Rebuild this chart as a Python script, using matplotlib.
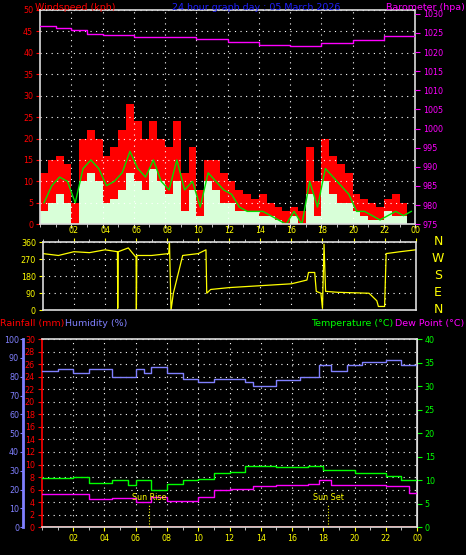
import matplotlib
matplotlib.use("Agg")
import matplotlib.pyplot as plt
import numpy as np

# ---- data ----
half_hours = np.arange(0, 24.01, 0.5)[:48]
gust = [12,15,16,14,5,20,22,20,16,18,22,28,24,20,24,20,18,24,12,18,8,15,15,12,
        10,8,7,6,7,5,4,3,4,3,18,10,20,16,14,12,7,6,5,4,6,7,5,4]
speed = [3,5,7,5,0,10,12,10,5,6,8,12,10,8,13,10,7,10,3,8,2,10,8,5,
         5,3,3,3,2,2,1,0,2,0,7,2,10,7,5,5,3,2,1,1,3,2,2,3]
avg = [5,9,11,10,5,13,15,13,9,10,12,17,13,11,15,10,8,15,8,10,4,12,10,8,
       7,4,3,3,3,2,1,0,3,0,10,4,13,11,9,7,3,3,2,1,2,3,2,3]
baro_hours = [0, 1, 2, 3, 4, 6, 8, 10, 12, 14, 16, 18, 20, 22, 24]
baro = [1026.8, 1026.3, 1025.8, 1024.8, 1024.4, 1024.0, 1023.9, 1023.3, 1022.6,
        1021.8, 1021.6, 1022.3, 1023.2, 1024.2, 1024.2]
dir_hours = [0, 1, 2, 3, 4, 4.8, 4.82, 4.85, 5.5, 6.0, 6.02, 6.05, 7, 8.1, 8.15, 8.25, 8.4,
             9, 10, 10.5, 10.55, 10.8, 12, 14, 16, 17, 17.1, 17.5, 17.6, 17.9, 18.0, 18.1, 18.2,
             19, 21, 21.5, 21.6, 22, 22.1, 23, 24]
dir_vals = [300, 290, 310, 305, 320, 310, 10, 310, 330, 280, 0, 290, 290, 300, 360, 0, 90,
            290, 300, 320, 90, 110, 120, 130, 140, 160, 200, 200, 100, 90, 10, 350, 100,
            95, 90, 50, 20, 20, 300, 310, 320]
th_hours = [0, 1, 2, 3, 3.5, 4.5, 5.5, 6, 6.5, 7, 8, 9, 10, 11, 12, 13, 13.5, 15, 16.5, 17.7, 18.5,
            19.5, 20.5, 22, 23, 24]
hum = [83, 84, 82, 84, 84, 80, 80, 84, 82, 85, 82, 79, 77, 79, 79, 77, 75, 78, 80, 86, 83,
       86, 88, 89, 86, 85]
temp_hours = [0, 2, 3, 4.5, 5.5, 6, 7, 8, 9, 10, 11, 12, 13, 15, 17, 18, 20, 22, 23, 24]
temp = [10.4, 10.6, 9.5, 10, 9, 10, 7.9, 9.2, 10, 10.3, 11.6, 11.8, 13, 12.8, 13, 12.2, 11.5, 11, 10, 10.2]
dew_hours = [0, 2, 3, 4.5, 6, 7, 8, 10, 11, 12, 13.5, 15, 17, 17.7, 18.5, 20, 22, 23.5, 24]
dew = [7, 7.1, 6, 6.3, 5.3, 6.5, 5.5, 6.5, 8, 8.1, 8.7, 9, 9.3, 10, 9, 9, 8.8, 7.3, 7.5]
rain_hours = [0, 17, 17.01, 24]
rain = [0, 0, 0.1, 0.1]
hour_labels = ["02","04","06","08","10","12","14","16","18","20","22","00"]
sunrise, sunset = 6.85, 18.3

FS = 5.8
TF = 6.8
plt.rcParams['font.family'] = ['DejaVu Sans']
fig = plt.figure(figsize=(4.66, 5.55), dpi=100, facecolor='black')
hours_ticks = list(range(2, 25, 2))

def style(ax):
    ax.set_facecolor('black')
    for s in ax.spines.values():
        s.set_color('#dddddd'); s.set_linewidth(1.2)
    ax.set_xlim(0, 24)
    ax.set_xticks(hours_ticks)
    ax.set_xticks(range(0, 25), minor=True)
    ax.grid(True, color='white', linestyle=(0, (1, 4)), linewidth=0.8)
    ax.tick_params(colors='#dddddd', labelsize=FS, length=3, pad=2)
    ax.tick_params(which='minor', colors='#dddddd', length=2)

# ---- top panel ----
ax1 = fig.add_axes([0.086, 0.596, 0.805, 0.386])
style(ax1)
ax1.fill_between(half_hours, gust, step='post', color='red', lw=0)
ax1.fill_between(half_hours, speed, step='post', color='#d8ffd8', lw=0)
ax1.plot(half_hours + 0.25, avg, color='#00e000', lw=1)
ax1.set_ylim(0, 50)
ax1.set_yticks(range(0, 51, 5))
ax1.tick_params(axis='y', colors='red', labelcolor='red')
ax1.set_xticklabels([])
ax1b = ax1.twinx()
ax1b.step(baro_hours, baro, where='post', color='#ff00ff', lw=1)
ax1b.set_ylim(975, 1031)
ax1b.set_yticks(range(975, 1031, 5))
ax1b.tick_params(axis='y', colors='#ff00ff', labelsize=FS, pad=2)
for s in ax1b.spines.values():
    s.set_visible(False)
fig.text(0.075, 0.995, "Windspeed (kph)", color='red', fontsize=TF, va='top')
fig.text(0.37, 0.995, "24 hour graph day : 05 March 2026", color='#2020ff', fontsize=TF, va='top')
fig.text(0.997, 0.995, "Barometer (hpa)", color='#ff00ff', fontsize=TF, va='top', ha='right')

# ---- middle panel ----
ax2 = fig.add_axes([0.092, 0.441, 0.80, 0.1225])
style(ax2)
ax2.plot(dir_hours, dir_vals, color='yellow', lw=0.9)
ax2.set_ylim(0, 360)
ax2.set_yticks([0, 90, 180, 270, 360])
ax2.tick_params(axis='y', colors='yellow')
ax2.xaxis.tick_top()
ax2.set_xticklabels(hour_labels)
ax2.tick_params(axis='x', colors='yellow', labelcolor='yellow')
for i, c in enumerate(["N", "W", "S", "E", "N"]):
    fig.text(0.94, 0.565 - i * 0.0305, c, color='yellow', fontsize=9, ha='center', va='center')

# ---- bottom panel ----
ax3 = fig.add_axes([0.09, 0.050, 0.805, 0.339])
style(ax3)
ax3.step(rain_hours, rain, where='post', color='red', lw=2)
ax3.set_ylim(0, 30)
ax3.set_yticks(range(0, 31, 2))
ax3.tick_params(axis='y', colors='red')
ax3.spines['left'].set_color('red')
ax3.set_xticklabels(hour_labels)
ax3.tick_params(axis='x', colors='yellow', labelcolor='yellow')
axh = ax3.twinx()
axh.step(th_hours, hum, where='post', color='#8080ff', lw=1)
axh.set_ylim(0, 100)
axh.set_yticks(range(0, 101, 10))
axh.yaxis.tick_left()
axh.spines['left'].set_position(('axes', -0.05))
axh.spines['left'].set_color('#8080ff'); axh.spines['left'].set_linewidth(2)
for k in ['right', 'top', 'bottom']:
    axh.spines[k].set_visible(False)
axh.tick_params(axis='y', colors='#8080ff', labelsize=FS, pad=1, length=2)
axt = ax3.twinx()
axt.step(temp_hours, temp, where='post', color='#00ff00', lw=1)
axt.step(dew_hours, dew, where='post', color='#ff00ff', lw=1)
axt.set_ylim(0, 40)
axt.set_yticks(range(0, 41, 5))
for k in ['left', 'top', 'bottom']:
    axt.spines[k].set_visible(False)
axt.spines['right'].set_color('#dddddd')
axt.tick_params(axis='y', colors='#00ff00', labelsize=FS, pad=2)
for xs, lab in [(sunrise, "Sun Rise"), (sunset, "Sun Set")]:
    axt.plot([xs, xs], [0, 5], color='yellow', lw=0.8, linestyle=':')
    axt.text(xs, 5.3, lab, color='yellow', fontsize=FS, ha='center', va='bottom')
fig.text(0.0, 0.418, "Rainfall (mm)", color='red', fontsize=TF, va='center')
fig.text(0.14, 0.418, "Humidity (%)", color='#8080ff', fontsize=TF, va='center')
fig.text(0.668, 0.418, "Temperature (°C)", color='#00ff00', fontsize=TF, va='center')
fig.text(0.997, 0.418, "Dew Point (°C)", color='#ff00ff', fontsize=TF, va='center', ha='right')

fig.savefig("out.png", dpi=100, facecolor='black')
